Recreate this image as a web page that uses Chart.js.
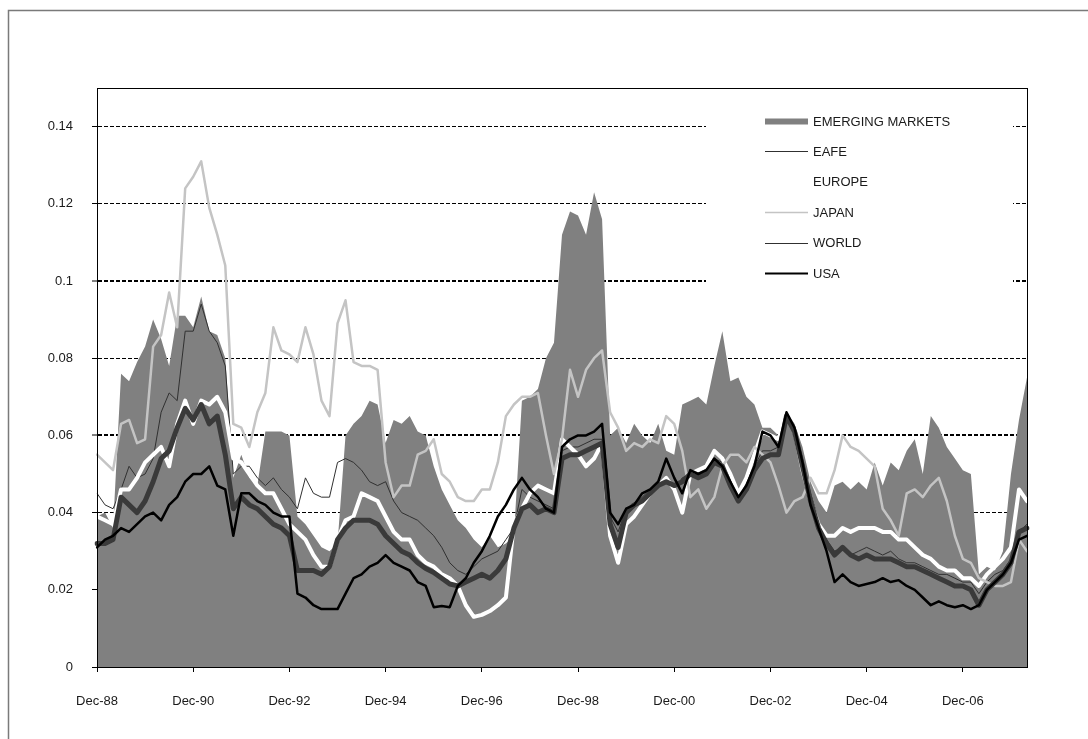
<!DOCTYPE html>
<html>
<head>
<meta charset="utf-8">
<script src="https://cdn.jsdelivr.net/npm/chart.js@4/dist/chart.umd.min.js"></script>
<style>
  html, body { margin: 0; padding: 0; background: #ffffff; }
  canvas { display: block; }
</style>
</head>
<body>
<canvas id="chart" width="1088" height="739"></canvas>
<script>
// Bi-monthly observations, Dec-88 through Aug-08
const MONTH_NAMES = ['Jan','Feb','Mar','Apr','May','Jun','Jul','Aug','Sep','Oct','Nov','Dec'];
const periods = [];
for (let i = 0; i <= 232; i += 2) {
  const d = new Date(1988, 11 + i, 1);
  periods.push(MONTH_NAMES[d.getMonth()] + '-' + String(d.getFullYear()).slice(2));
}

const tickLabels = ['Dec-88','Dec-90','Dec-92','Dec-94','Dec-96','Dec-98','Dec-00','Dec-02','Dec-04','Dec-06'];
const yTicks = [0, 0.02, 0.04, 0.06, 0.08, 0.1, 0.12, 0.14];

const emerging = [
  0.039, 0.040, 0.036, 0.076, 0.074, 0.079, 0.083, 0.090, 0.085, 0.078, 0.091, 0.091,
  0.088, 0.096, 0.087, 0.086, 0.080, 0.049, 0.055, 0.049, 0.047, 0.061, 0.061, 0.061,
  0.060, 0.039, 0.037, 0.034, 0.031, 0.030, 0.032, 0.060, 0.063, 0.065, 0.069, 0.068,
  0.058, 0.064, 0.063, 0.065, 0.061, 0.060, 0.052, 0.046, 0.042, 0.038, 0.036, 0.033,
  0.031, 0.034, 0.031, 0.032, 0.034, 0.069, 0.070, 0.072, 0.080, 0.084, 0.112, 0.118,
  0.117, 0.112, 0.123, 0.116, 0.060, 0.062, 0.058, 0.063, 0.060, 0.058, 0.063, 0.056,
  0.055, 0.068, 0.069, 0.070, 0.068, 0.078, 0.087, 0.074, 0.075, 0.070, 0.068, 0.062,
  0.062, 0.060, 0.066, 0.063, 0.057, 0.048, 0.043, 0.040, 0.047, 0.048, 0.046, 0.048,
  0.046, 0.053, 0.047, 0.053, 0.051, 0.056, 0.059, 0.050, 0.065, 0.062, 0.057, 0.054,
  0.051, 0.050, 0.024, 0.026, 0.025, 0.030, 0.050, 0.064, 0.075
];

const eafe = [
  0.045, 0.042, 0.041, 0.046, 0.052, 0.049, 0.050, 0.054, 0.066, 0.071, 0.069, 0.087,
  0.087, 0.094, 0.087, 0.084, 0.078, 0.050, 0.052, 0.052, 0.049, 0.047, 0.049, 0.046,
  0.044, 0.041, 0.049, 0.045, 0.044, 0.044, 0.053, 0.054, 0.053, 0.051, 0.048, 0.047,
  0.048, 0.043, 0.040, 0.039, 0.038, 0.036, 0.034, 0.031, 0.027, 0.025, 0.024, 0.026,
  0.028, 0.029, 0.030, 0.033, 0.036, 0.046, 0.044, 0.043, 0.042, 0.041, 0.056, 0.057,
  0.057, 0.058, 0.059, 0.059, 0.039, 0.035, 0.041, 0.042, 0.044, 0.046, 0.047, 0.048,
  0.046, 0.049, 0.050, 0.050, 0.050, 0.054, 0.053, 0.049, 0.044, 0.046, 0.052, 0.056,
  0.056, 0.057, 0.064, 0.062, 0.054, 0.045, 0.038, 0.033, 0.030, 0.031, 0.029, 0.030,
  0.031, 0.030, 0.029, 0.030, 0.028, 0.027, 0.027, 0.026, 0.025, 0.024, 0.024, 0.023,
  0.022, 0.022, 0.019, 0.022, 0.024, 0.025, 0.028, 0.035, 0.037
];

const europe = [
  0.039, 0.038, 0.037, 0.046, 0.046, 0.049, 0.053, 0.055, 0.057, 0.052, 0.063, 0.069,
  0.063, 0.069, 0.068, 0.070, 0.066, 0.054, 0.053, 0.050, 0.047, 0.045, 0.045, 0.041,
  0.037, 0.035, 0.033, 0.029, 0.026, 0.026, 0.033, 0.038, 0.039, 0.045, 0.044, 0.043,
  0.039, 0.035, 0.033, 0.033, 0.029, 0.027, 0.026, 0.024, 0.023, 0.021, 0.016, 0.013,
  0.0135, 0.0145, 0.016, 0.018, 0.037, 0.041, 0.045, 0.047, 0.046, 0.045, 0.059, 0.057,
  0.055, 0.052, 0.054, 0.058, 0.034, 0.027, 0.037, 0.039, 0.042, 0.045, 0.047, 0.049,
  0.046, 0.040, 0.050, 0.051, 0.052, 0.056, 0.054, 0.050, 0.045, 0.049, 0.055, 0.061,
  0.060, 0.059, 0.066, 0.061, 0.051, 0.043, 0.037, 0.034, 0.034, 0.036, 0.035, 0.036,
  0.036, 0.036, 0.035, 0.035, 0.033, 0.033, 0.031, 0.029, 0.028, 0.026, 0.025, 0.025,
  0.023, 0.023, 0.021, 0.024, 0.026, 0.028, 0.031, 0.046, 0.043
];

const japan = [
  0.055, 0.053, 0.051, 0.063, 0.064, 0.058, 0.059, 0.083, 0.086, 0.097, 0.088, 0.124,
  0.127, 0.131, 0.119, 0.112, 0.104, 0.063, 0.062, 0.057, 0.066, 0.071, 0.088, 0.082,
  0.081, 0.079, 0.088, 0.081, 0.069, 0.065, 0.089, 0.095, 0.079, 0.078, 0.078, 0.077,
  0.053, 0.044, 0.047, 0.047, 0.055, 0.056, 0.059, 0.050, 0.048, 0.044, 0.043, 0.043,
  0.046, 0.046, 0.053, 0.065, 0.068, 0.070, 0.070, 0.071, 0.060, 0.050, 0.059, 0.077,
  0.070, 0.077, 0.080, 0.082, 0.066, 0.062, 0.056, 0.058, 0.057, 0.059, 0.058, 0.065,
  0.063, 0.056, 0.044, 0.046, 0.041, 0.044, 0.052, 0.055, 0.055, 0.053, 0.057, 0.055,
  0.053, 0.047, 0.040, 0.043, 0.044, 0.049, 0.045, 0.045, 0.051, 0.060, 0.057, 0.056,
  0.054, 0.052, 0.041, 0.038, 0.034, 0.045, 0.046, 0.044, 0.047, 0.049, 0.043, 0.034,
  0.028, 0.027, 0.023, 0.022, 0.021, 0.021, 0.022, 0.033, 0.030
];

const world = [
  0.032, 0.032, 0.033, 0.044, 0.042, 0.040, 0.043, 0.048, 0.054, 0.056, 0.062, 0.067,
  0.064, 0.068, 0.063, 0.065, 0.055, 0.041, 0.044, 0.042, 0.041, 0.039, 0.037, 0.036,
  0.034, 0.025, 0.025, 0.025, 0.024, 0.026, 0.033, 0.036, 0.038, 0.038, 0.038, 0.037,
  0.034, 0.032, 0.030, 0.029, 0.027, 0.0255, 0.0245, 0.023, 0.0215, 0.021, 0.022, 0.023,
  0.024, 0.023, 0.025, 0.028, 0.036, 0.041, 0.042, 0.040, 0.041, 0.040, 0.054, 0.055,
  0.055, 0.056, 0.057, 0.058, 0.037, 0.031, 0.040, 0.042, 0.043, 0.045, 0.047, 0.048,
  0.047, 0.048, 0.050, 0.049, 0.050, 0.053, 0.052, 0.047, 0.043, 0.046, 0.051, 0.054,
  0.055, 0.055, 0.065, 0.061, 0.052, 0.043, 0.036, 0.032, 0.029, 0.031, 0.029, 0.028,
  0.029, 0.028, 0.028, 0.028, 0.027, 0.026, 0.026, 0.025, 0.024, 0.023, 0.022, 0.021,
  0.021, 0.020, 0.016, 0.020, 0.022, 0.024, 0.027, 0.035, 0.036
];

const usa = [
  0.031, 0.033, 0.034, 0.036, 0.035, 0.037, 0.039, 0.040, 0.038, 0.042, 0.044, 0.048,
  0.050, 0.050, 0.052, 0.047, 0.046, 0.034, 0.045, 0.045, 0.043, 0.042, 0.040, 0.039,
  0.039, 0.019, 0.018, 0.016, 0.015, 0.015, 0.015, 0.019, 0.023, 0.024, 0.026, 0.027,
  0.029, 0.027, 0.026, 0.025, 0.022, 0.021, 0.0155, 0.0158, 0.0155, 0.021, 0.023, 0.027,
  0.030, 0.034, 0.039, 0.042, 0.046, 0.049, 0.046, 0.044, 0.041, 0.040, 0.057, 0.059,
  0.060, 0.060, 0.061, 0.063, 0.040, 0.037, 0.041, 0.042, 0.045, 0.046, 0.048, 0.054,
  0.049, 0.045, 0.051, 0.050, 0.051, 0.054, 0.052, 0.048, 0.044, 0.047, 0.052, 0.061,
  0.060, 0.057, 0.066, 0.062, 0.053, 0.042, 0.036, 0.030, 0.022, 0.024, 0.022, 0.021,
  0.0215, 0.022, 0.023, 0.022, 0.0225, 0.021, 0.020, 0.018, 0.016, 0.017, 0.016, 0.0155,
  0.016, 0.015, 0.016, 0.020, 0.022, 0.024, 0.027, 0.033, 0.034
];

const FONT = "'Liberation Sans', Arial, sans-serif";
const TEXT = '#1a1a1a';

// Grey outer frame plus the black box round the plot area
const framePlugin = {
  id: 'frames',
  beforeDraw(chart) {
    const c = chart.ctx;
    c.save();
    c.strokeStyle = '#7a7a7a';
    c.lineWidth = 1.5;
    c.strokeRect(8.5, 10.5, 1200, 1000);
    c.restore();
  },
  afterDraw(chart) {
    const a = chart.chartArea, c = chart.ctx;
    c.save();
    c.strokeStyle = '#000';
    c.lineWidth = 1;
    c.strokeRect(Math.round(a.left) + 0.5, Math.round(a.top) + 0.5,
                 Math.round(a.right - a.left), Math.round(a.bottom - a.top));
    c.restore();
  }
};

// Legend drawn inside the top-right corner of the plot on a white panel
const insetLegend = {
  id: 'insetLegend',
  afterDatasetsDraw(chart, args, opts) {
    const a = chart.chartArea, c = chart.ctx;
    c.save();
    c.fillStyle = '#ffffff';
    c.fillRect(a.right - 321, a.top + 12, 307, 196);
    c.font = opts.font;
    c.textBaseline = 'middle';
    c.textAlign = 'left';
    chart.data.datasets.forEach((ds, i) => {
      const y = a.top + 33 + i * 30.4;
      const x0 = a.right - 262;
      c.strokeStyle = ds.legendColor;
      c.lineWidth = ds.legendWidth;
      c.beginPath();
      c.moveTo(x0, Math.round(y) + 0.5);
      c.lineTo(x0 + 43, Math.round(y) + 0.5);
      c.stroke();
      c.fillStyle = TEXT;
      c.fillText(ds.label, x0 + 48, y + 1);
    });
    c.restore();
  }
};

const near = (v, t) => Math.abs(v - t) < 1e-9;

new Chart(document.getElementById('chart'), {
  type: 'line',
  data: {
    labels: periods,
    datasets: [
      { label: 'EMERGING MARKETS', data: emerging, fill: 'origin', backgroundColor: '#808080',
        borderColor: '#808080', borderWidth: 0, order: 6, legendColor: '#808080', legendWidth: 6 },
      { label: 'EAFE', data: eafe, borderColor: '#303030', borderWidth: 1, order: 5,
        legendColor: '#303030', legendWidth: 1 },
      { label: 'EUROPE', data: europe, borderColor: '#ffffff', borderWidth: 4, order: 4,
        legendColor: '#ffffff', legendWidth: 2 },
      { label: 'JAPAN', data: japan, borderColor: '#c4c4c4', borderWidth: 2.5, order: 3,
        legendColor: '#c4c4c4', legendWidth: 1.5 },
      { label: 'WORLD', data: world, borderColor: '#3a3a3a', borderWidth: 5, order: 2,
        legendColor: '#303030', legendWidth: 1.2 },
      { label: 'USA', data: usa, borderColor: '#000000', borderWidth: 2.5, order: 1,
        legendColor: '#000000', legendWidth: 1.8 }
    ]
  },
  options: {
    responsive: false,
    animation: false,
    devicePixelRatio: 1,
    layout: { padding: { left: 0, top: 88, right: 61, bottom: 0 } },
    elements: {
      point: { radius: 0 },
      line: { tension: 0, borderJoinStyle: 'round', borderCapStyle: 'round' }
    },
    plugins: {
      legend: { display: false },
      tooltip: { enabled: false },
      insetLegend: { font: "13px 'Liberation Sans', Arial, sans-serif" }
    },
    scales: {
      x: {
        type: 'category',
        offset: false,
        afterFit(s) { s.height = 72; },
        afterBuildTicks(s) {
          s.ticks = s.ticks.filter(t => tickLabels.includes(periods[t.value]));
        },
        ticks: { autoSkip: false, maxRotation: 0, padding: 22, color: TEXT,
                 font: { family: FONT, size: 13 } },
        grid: { drawOnChartArea: false, drawTicks: true, tickLength: 5, color: '#000', lineWidth: 1 },
        border: { color: '#000', width: 1 }
      },
      y: {
        min: 0,
        max: 0.15,
        afterFit(s) { s.width = 97; },
        afterBuildTicks(s) { s.ticks = yTicks.map(v => ({ value: v })); },
        ticks: { padding: 19, color: TEXT, font: { family: FONT, size: 13 },
                 callback: v => String(+v.toFixed(2)) },
        grid: {
          color: c => (c.tick && near(c.tick.value, 0)) ? 'rgba(0,0,0,0)' : '#000',
          lineWidth: c => (c.tick && (near(c.tick.value, 0.1) || near(c.tick.value, 0.06))) ? 2 : 1,
          tickColor: '#000', tickLength: 5, tickWidth: 1
        },
        border: { color: '#000', width: 1, dash: [4, 2] }
      }
    }
  },
  plugins: [framePlugin, insetLegend]
});
</script>
</body>
</html>
